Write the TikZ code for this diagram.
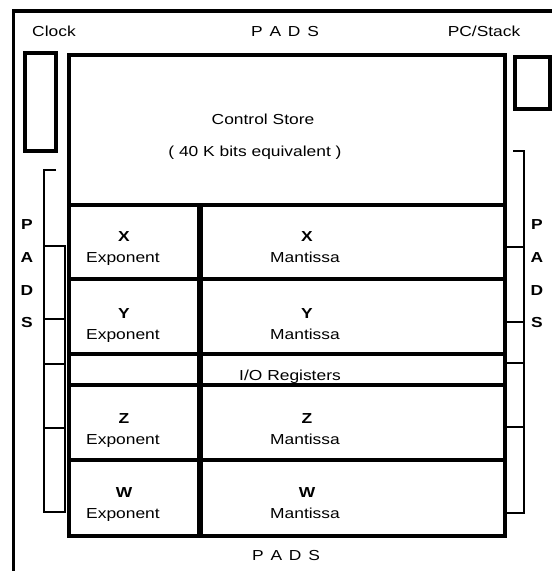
\documentclass[tikz,border=0pt]{standalone}
\usepackage{fontspec}
\setmainfont[FakeStretch=1.2]{Liberation Sans}
\begin{document}
\begin{tikzpicture}[x=0.5pt,y=-0.5pt]
% 552 x 571 px, chip floor plan
\tikzset{
  lbl/.style={text=black,inner sep=0pt,anchor=base,font=\fontsize{7.25}{8.7}\selectfont},
  reg/.style={lbl,font=\fontsize{7.25}{8.7}\selectfont\bfseries},
  heavy/.style={line width=2pt},
  rowline/.style={line width=1.8pt},
  padline/.style={line width=0.8pt}
}
\useasboundingbox (0,0) rectangle (552,571);
% outer frame
\draw[line width=1.6pt] (13.5,571) -- (13.5,11) -- (552,11);
% clock and PC/stack blocks
\draw[heavy] (25,53) rectangle (56,151);
\draw[heavy] (515,57) rectangle (550,109);
% left pads
\draw[padline] (56,170) -- (44,170) -- (44,512) -- (65,512) -- (65,246) -- (44,246);
\foreach \y in {319,364,428} \draw[padline] (44,\y) -- (65,\y);
% right pads
\draw[padline] (513,151) -- (524,151) -- (524,513) -- (507,513);
\foreach \y in {247,322,363,427} \draw[padline] (507,\y) -- (524,\y);
% main block
\draw[heavy] (69,55) rectangle (505,536);
\foreach \y in {205,279,354,385,460} \draw[rowline] (69,\y) -- (505,\y);
\draw[line width=2.8pt] (200,205) -- (200,536);
% labels
\node[lbl] (clock) at (54,37) {Clock};
\node[lbl] (padstop) at (285,37) {P\hspace{3.4pt}A\hspace{3.4pt}D\hspace{3.4pt}S};
\node[lbl] (pcstack) at (484,37) {PC/Stack};
\node[lbl] (padsbot) at (286,560) {P\hspace{3.4pt}A\hspace{3.4pt}D\hspace{3.4pt}S};
\node[lbl] (cstore) at (263,125) {Control Store};
\node[lbl] (cbits) at (255,157) {( 40 K bits equivalent )};
\node[lbl] (ioreg) at (290,380) {I/O Registers};
\foreach \l/\y in {P/230,A/263,D/295,S/327} {
  \node[reg] (padl\l) at (27,\y) {\l};
  \node[reg] (padr\l) at (537,\y) {\l};
}
\foreach \r/\y in {X/242,Y/318,Z/423,W/497} {
  \node[reg] (exp\r) at (124,\y) {\r};
  \node[lbl] (expt\r) at (123,\y+21) {Exponent};
  \node[reg] (man\r) at (307,\y) {\r};
  \node[lbl] (mant\r) at (305,\y+21) {Mantissa};
}
\end{tikzpicture}
\end{document}
